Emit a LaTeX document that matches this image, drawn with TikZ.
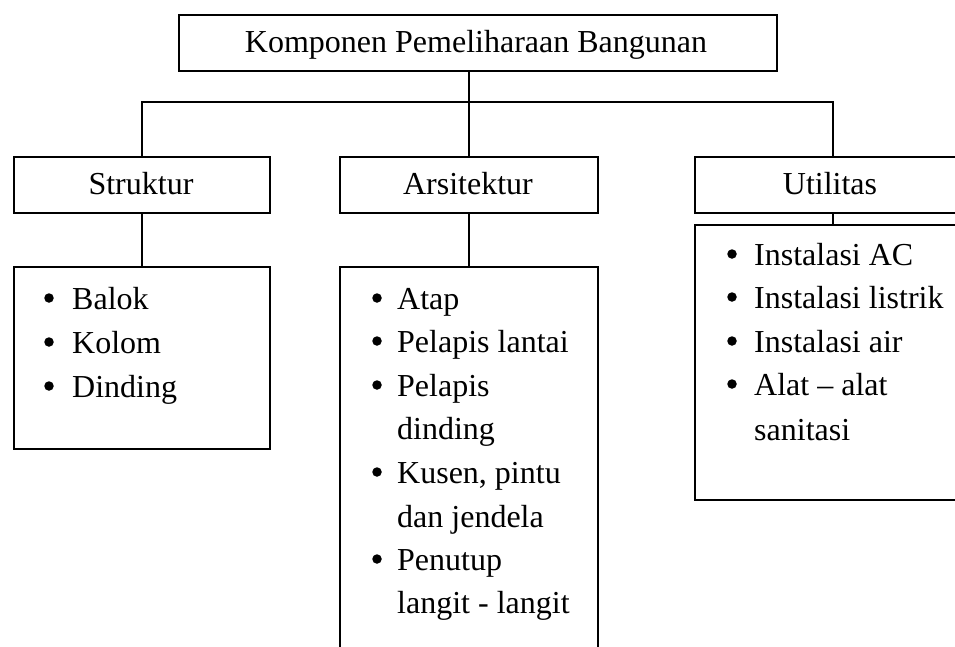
\documentclass[tikz,border=0pt]{standalone}
\usepackage{fontspec}
\setmainfont{Liberation Serif}
\newcommand\diagfont{\fontsize{32pt}{44pt}\selectfont}
\tikzset{
  boxnode/.style={draw=black, line width=1.8pt, fill=white, rectangle, inner sep=0pt, anchor=north west},
  headtext/.style={inner sep=0pt, anchor=base, font=\diagfont},
  itemtext/.style={inner sep=0pt, anchor=base west, font=\diagfont},
  bulletdot/.style={circle, fill=black, inner sep=0pt, minimum size=9.5pt},
  conn/.style={draw=black, line width=1.8pt},
}
\begin{document}
\begin{tikzpicture}[x=1pt,y=-1pt]
\useasboundingbox (0,0) rectangle (955,646);
\clip (0,0) rectangle (955,646);
\fill[white] (0,0) rectangle (955,646);

\coordinate (bus) at (469,102);

% boxes
\node[boxnode, minimum width=598pt, minimum height=56pt] (top) at (178,14) {};
\node[boxnode, minimum width=256pt, minimum height=56pt] (s) at (13,156) {};
\node[boxnode, minimum width=258pt, minimum height=56pt] (a) at (339,156) {};
\node[boxnode, minimum width=276pt, minimum height=56pt] (u) at (694,156) {};
\node[boxnode, minimum width=256pt, minimum height=182pt] (sl) at (13,266) {};
\node[boxnode, minimum width=258pt, minimum height=420pt] (al) at (339,266) {};
\node[boxnode, minimum width=276pt, minimum height=275pt] (ul) at (694,224) {};

% connectors
\draw[conn] (top.south -| a.north) -- (a.north);
\draw[conn] (s.north) -- (s.north |- bus) -- (u.north |- bus) -- (u.north);
\draw[conn] (s.south) -- (sl.north);
\draw[conn] (a.south) -- (al.north);
\draw[conn] (u.south) -- (ul.north);

% header texts
\node[headtext] (ttop) at (476,52.5) {Komponen Pemeliharaan Bangunan};
\node[headtext] (ts) at (141,194.5) {Struktur};
\node[headtext] (ta) at (468,194.5) {Arsitektur};
\node[headtext] (tu) at (830,194.5) {Utilitas};

% Struktur list
\node[bulletdot] (sb1) at (49,298) {};
\node[itemtext] (s1) at (72,309) {Balok};
\node[bulletdot] (sb2) at (49,342) {};
\node[itemtext] (s2) at (72,353) {Kolom};
\node[bulletdot] (sb3) at (49,386) {};
\node[itemtext] (s3) at (72,397) {Dinding};

% Arsitektur list
\node[bulletdot] (ab1) at (377,298) {};
\node[itemtext] (a1) at (397,309) {Atap};
\node[bulletdot] (ab2) at (377,341) {};
\node[itemtext] (a2) at (397,352) {Pelapis lantai};
\node[bulletdot] (ab3) at (377,385) {};
\node[itemtext] (a3) at (397,396) {Pelapis};
\node[itemtext] (a3b) at (397,439) {dinding};
\node[bulletdot] (ab4) at (377,472) {};
\node[itemtext] (a4) at (397,483) {Kusen, pintu};
\node[itemtext] (a4b) at (397,527) {dan jendela};
\node[bulletdot] (ab5) at (377,559) {};
\node[itemtext] (a5) at (397,570) {Penutup};
\node[itemtext] (a5b) at (397,613) {langit - langit};

% Utilitas list
\node[bulletdot] (ub1) at (732,254) {};
\node[itemtext] (u1) at (754,265) {Instalasi AC};
\node[bulletdot] (ub2) at (732,297) {};
\node[itemtext] (u2) at (754,308) {Instalasi listrik};
\node[bulletdot] (ub3) at (732,341) {};
\node[itemtext] (u3) at (754,352) {Instalasi air};
\node[bulletdot] (ub4) at (732,384) {};
\node[itemtext] (u4) at (754,395) {Alat -- alat};
\node[itemtext] (u4b) at (754,440) {sanitasi};
\end{tikzpicture}
\end{document}
